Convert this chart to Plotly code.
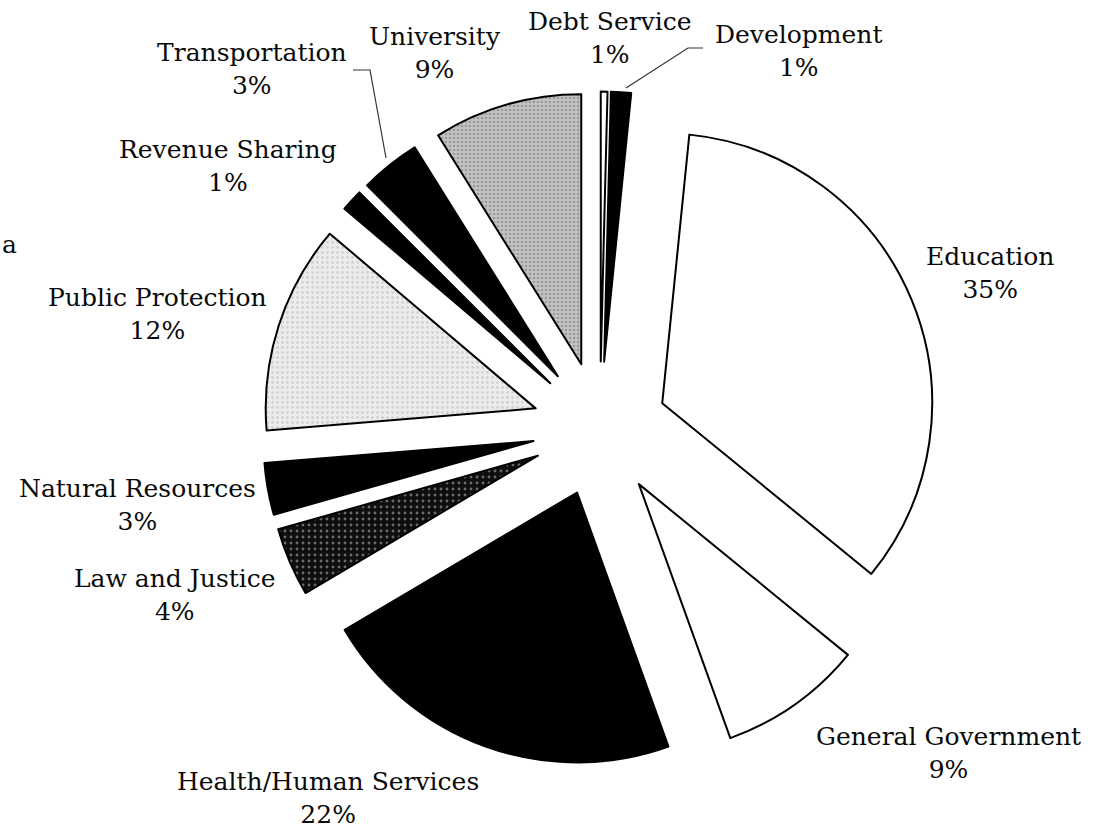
import plotly.graph_objects as go

# ---- data (clockwise from 12 o'clock) ----
categories = ["Debt Service", "Development", "Education", "General Government",
              "Health/Human Services", "Law and Justice", "Natural Resources",
              "Public Protection", "Revenue Sharing", "Transportation", "University"]
values = [0.4, 1.2, 34.3, 8.6, 22.0, 4.1, 3.1, 12.5, 1.3, 3.6, 8.9]
pct_labels = ["1%", "1%", "35%", "9%", "22%", "4%", "3%", "12%", "1%", "3%", "9%"]

# ---- styles ----
fill_colors = ["#ffffff", "#000000", "#ffffff", "#ffffff", "#000000", "#0e0e0e",
               "#000000", "#ececec", "#000000", "#000000", "#c4c4c4"]
pattern_shapes = ["", "", "", "", "", ".", "", ".", "", "", "."]
pattern_fg = ["#000", "#000", "#000", "#000", "#000", "#6a6a6a", "#000", "#d2d2d2",
              "#000", "#000", "#9a9a9a"]
pattern_size = [6, 6, 6, 6, 6, 6, 6, 5, 6, 6, 4]
pattern_solid = [0.3, 0.3, 0.3, 0.3, 0.3, 0.18, 0.3, 0.25, 0.3, 0.3, 0.35]

# label placement (pixel centres of the two-line labels)
label_pos = {
    "Debt Service": (610, 38),
    "Development": (798, 51),
    "Education": (990, 273),
    "General Government": (948, 753),
    "Health/Human Services": (328, 798),
    "Law and Justice": (175, 595),
    "Natural Resources": (137, 505),
    "Public Protection": (157, 314),
    "Revenue Sharing": (228, 166),
    "Transportation": (252, 69),
    "University": (435, 53),
}

W, H = 1095, 835
FONT = "DejaVu Serif"


def px(x, y):
    return x / W, 1 - y / H


fig = go.Figure()
fig.add_trace(go.Pie(
    labels=categories,
    values=values,
    sort=False,
    direction="clockwise",
    rotation=0,
    pull=[0.25] * len(values),
    textinfo="none",
    hoverinfo="skip",
    showlegend=False,
    marker=dict(
        colors=fill_colors,
        line=dict(color="#000000", width=2),
        pattern=dict(shape=pattern_shapes, fgcolor=pattern_fg, bgcolor=fill_colors,
                     size=pattern_size, solidity=pattern_solid, fillmode="replace"),
    ),
    domain=dict(x=[0.2397, 0.856], y=[0.082, 0.8904]),
))

annotations = []
for cat, pct in zip(categories, pct_labels):
    x, y = px(*label_pos[cat])
    annotations.append(dict(
        x=x, y=y, xref="paper", yref="paper", showarrow=False,
        text=f"{cat}<br>{pct}", align="center",
        xanchor="center", yanchor="middle",
        font=dict(family=FONT, size=25, color="#0a0a0a"),
    ))
# fragment of text at the left edge of the scan
ax, ay = px(0, 245)
annotations.append(dict(x=ax, y=ay, xref="paper", yref="paper", showarrow=False,
                        text="a", xanchor="left", yanchor="middle",
                        font=dict(family=FONT, size=25, color="#0a0a0a")))


def path(points):
    pts = [px(*p) for p in points]
    return "M " + " L ".join(f"{x},{y}" for x, y in pts)


shapes = [
    dict(type="path", xref="paper", yref="paper",
         path=path([(353, 70), (370, 70), (386, 158)]),
         line=dict(color="#333333", width=1.2)),
    dict(type="path", xref="paper", yref="paper",
         path=path([(703, 48), (688, 48), (626, 88)]),
         line=dict(color="#333333", width=1.2)),
]

fig.update_layout(
    width=W, height=H,
    margin=dict(l=0, r=0, t=0, b=0),
    paper_bgcolor="#ffffff",
    plot_bgcolor="#ffffff",
    annotations=annotations,
    shapes=shapes,
)

fig.write_html("out.html")
